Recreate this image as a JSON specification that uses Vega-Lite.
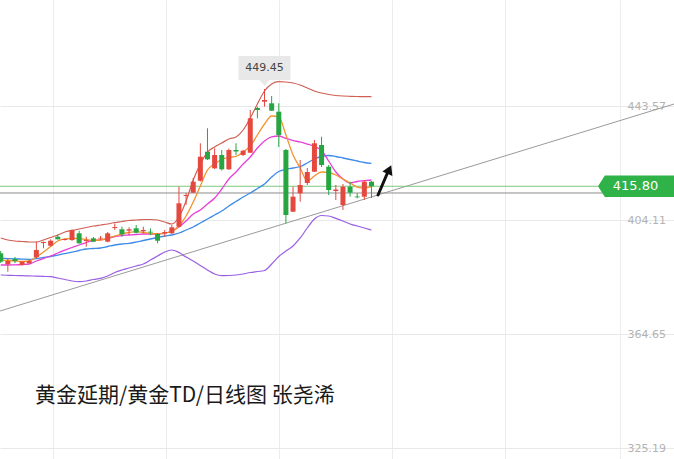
{
  "$schema": "https://vega.github.io/schema/vega-lite/v6.json",
  "width": 674,
  "height": 459,
  "autosize": {"type": "none"},
  "padding": 0,
  "background": "white",
  "config": {"view": {"stroke": null}},
  "datasets": {
    "candles": [
      {"i":0,"o":392.60,"h":393.40,"l":389.25,"c":389.70,"ub":397.90,"mb":390.87,"lb":385.09,"m5":390.28,"m10":388.55},
      {"i":1,"o":388.80,"h":390.98,"l":386.24,"c":389.94,"ub":397.21,"mb":390.77,"lb":384.99,"m5":390.11,"m10":388.55},
      {"i":2,"o":390.63,"h":391.32,"l":389.25,"c":389.94,"ub":396.86,"mb":390.67,"lb":384.92,"m5":389.94,"m10":388.62},
      {"i":3,"o":388.55,"h":389.94,"l":388.31,"c":389.70,"ub":396.69,"mb":390.60,"lb":384.85,"m5":389.77,"m10":388.73},
      {"i":4,"o":389.14,"h":390.29,"l":388.90,"c":389.94,"ub":396.51,"mb":390.53,"lb":384.78,"m5":389.94,"m10":388.90},
      {"i":5,"o":391.22,"h":396.62,"l":390.98,"c":393.74,"ub":396.51,"mb":390.80,"lb":384.71,"m5":391.32,"m10":389.94},
      {"i":6,"o":396.17,"h":396.68,"l":394.33,"c":396.51,"ub":397.21,"mb":391.15,"lb":384.61,"m5":393.05,"m10":390.80},
      {"i":7,"o":395.23,"h":397.45,"l":394.89,"c":396.96,"ub":398.07,"mb":391.50,"lb":384.51,"m5":394.96,"m10":391.67},
      {"i":8,"o":398.35,"h":399.04,"l":397.38,"c":397.45,"ub":398.94,"mb":392.01,"lb":384.06,"m5":396.86,"m10":392.71},
      {"i":9,"o":397.20,"h":397.72,"l":397.03,"c":397.55,"ub":399.97,"mb":392.53,"lb":383.54,"m5":397.55,"m10":393.74},
      {"i":10,"o":397.20,"h":400.91,"l":396.86,"c":400.67,"ub":400.49,"mb":393.05,"lb":383.02,"m5":397.79,"m10":394.61},
      {"i":11,"o":399.52,"h":400.43,"l":395.99,"c":396.06,"ub":401.01,"mb":393.57,"lb":382.78,"m5":397.72,"m10":395.48},
      {"i":12,"o":396.86,"h":398.35,"l":394.89,"c":397.20,"ub":401.53,"mb":394.09,"lb":383.02,"m5":397.38,"m10":396.34},
      {"i":13,"o":397.79,"h":398.24,"l":396.51,"c":396.62,"ub":402.05,"mb":394.26,"lb":383.54,"m5":397.10,"m10":397.03},
      {"i":14,"o":397.72,"h":398.59,"l":397.20,"c":397.97,"ub":402.40,"mb":394.44,"lb":383.95,"m5":397.21,"m10":397.27},
      {"i":15,"o":396.62,"h":399.97,"l":396.41,"c":399.52,"ub":402.74,"mb":394.96,"lb":384.75,"m5":397.90,"m10":397.72},
      {"i":16,"o":401.36,"h":402.98,"l":400.67,"c":401.70,"ub":403.26,"mb":395.48,"lb":385.96,"m5":398.59,"m10":398.42},
      {"i":17,"o":400.91,"h":401.81,"l":398.35,"c":399.18,"ub":403.61,"mb":395.82,"lb":386.82,"m5":399.28,"m10":398.76},
      {"i":18,"o":400.43,"h":401.60,"l":398.93,"c":400.91,"ub":403.95,"mb":396.06,"lb":387.52,"m5":399.80,"m10":398.93},
      {"i":19,"o":401.25,"h":402.40,"l":399.52,"c":399.73,"ub":404.13,"mb":396.51,"lb":388.21,"m5":400.08,"m10":399.11},
      {"i":20,"o":400.22,"h":401.81,"l":399.52,"c":400.67,"ub":404.30,"mb":397.03,"lb":388.90,"m5":399.80,"m10":399.28},
      {"i":21,"o":400.08,"h":401.25,"l":398.93,"c":399.80,"ub":404.30,"mb":397.55,"lb":390.28,"m5":399.45,"m10":399.28},
      {"i":22,"o":399.28,"h":399.63,"l":396.06,"c":396.96,"ub":404.13,"mb":398.07,"lb":391.67,"m5":399.28,"m10":399.38},
      {"i":23,"o":399.52,"h":400.67,"l":398.35,"c":399.97,"ub":403.43,"mb":398.59,"lb":393.05,"m5":399.63,"m10":399.52},
      {"i":24,"o":399.52,"h":402.40,"l":399.28,"c":401.60,"ub":402.74,"mb":398.94,"lb":393.74,"m5":400.15,"m10":400.32},
      {"i":25,"o":401.81,"h":415.65,"l":401.60,"c":409.90,"ub":405.16,"mb":399.63,"lb":392.88,"m5":402.05,"m10":401.70},
      {"i":26,"o":412.43,"h":413.47,"l":409.32,"c":412.78,"ub":410.70,"mb":400.67,"lb":391.32,"m5":405.51,"m10":403.78},
      {"i":27,"o":413.57,"h":418.66,"l":413.47,"c":417.38,"ub":417.97,"mb":401.70,"lb":389.94,"m5":410.35,"m10":406.20},
      {"i":28,"o":417.72,"h":430.67,"l":417.45,"c":426.03,"ub":423.50,"mb":403.09,"lb":388.38,"m5":415.89,"m10":407.59},
      {"i":29,"o":427.76,"h":435.86,"l":424.89,"c":425.13,"ub":427.65,"mb":404.47,"lb":386.82,"m5":421.43,"m10":409.66},
      {"i":30,"o":422.01,"h":428.94,"l":421.77,"c":426.62,"ub":429.38,"mb":405.86,"lb":385.44,"m5":423.50,"m10":411.74},
      {"i":31,"o":426.62,"h":428.35,"l":421.25,"c":421.67,"ub":430.77,"mb":407.24,"lb":384.85,"m5":425.06,"m10":414.85},
      {"i":32,"o":421.67,"h":428.87,"l":421.43,"c":428.35,"ub":432.15,"mb":408.97,"lb":384.92,"m5":425.75,"m10":418.31},
      {"i":33,"o":428.35,"h":430.67,"l":426.62,"c":427.83,"ub":432.85,"mb":410.53,"lb":385.09,"m5":426.10,"m10":420.73},
      {"i":34,"o":426.62,"h":428.35,"l":426.27,"c":428.10,"ub":435.27,"mb":412.08,"lb":385.44,"m5":427.65,"m10":423.50},
      {"i":35,"o":427.41,"h":442.19,"l":427.31,"c":439.32,"ub":439.42,"mb":413.47,"lb":385.96,"m5":429.73,"m10":425.92},
      {"i":36,"o":442.88,"h":443.33,"l":439.32,"c":442.19,"ub":444.26,"mb":415.03,"lb":386.31,"m5":433.54,"m10":429.04},
      {"i":37,"o":445.06,"h":449.45,"l":443.33,"c":445.65,"ub":448.76,"mb":416.58,"lb":386.65,"m5":437.34,"m10":431.46},
      {"i":38,"o":444.51,"h":447.03,"l":441.84,"c":441.95,"ub":451.18,"mb":419.00,"lb":388.90,"m5":440.11,"m10":432.85},
      {"i":39,"o":441.60,"h":444.51,"l":429.38,"c":433.54,"ub":451.98,"mb":420.91,"lb":391.50,"m5":439.77,"m10":433.19},
      {"i":40,"o":428.35,"h":428.69,"l":402.98,"c":405.86,"ub":451.88,"mb":421.60,"lb":393.40,"m5":433.54,"m10":432.33},
      {"i":41,"o":407.00,"h":415.65,"l":406.89,"c":412.19,"ub":451.53,"mb":422.12,"lb":395.13,"m5":426.62,"m10":431.63},
      {"i":42,"o":413.36,"h":424.89,"l":410.46,"c":416.24,"ub":450.84,"mb":422.64,"lb":397.90,"m5":422.12,"m10":431.12},
      {"i":43,"o":416.93,"h":422.12,"l":416.24,"c":420.73,"ub":449.80,"mb":423.85,"lb":401.36,"m5":417.62,"m10":430.42},
      {"i":44,"o":420.84,"h":431.81,"l":420.73,"c":430.67,"ub":448.76,"mb":425.23,"lb":404.47,"m5":419.35,"m10":429.56},
      {"i":45,"o":430.08,"h":432.95,"l":422.47,"c":423.16,"ub":448.07,"mb":426.10,"lb":405.68,"m5":420.73,"m10":428.17},
      {"i":46,"o":422.57,"h":423.16,"l":412.78,"c":414.50,"ub":447.55,"mb":426.44,"lb":405.51,"m5":420.56,"m10":424.54},
      {"i":47,"o":414.16,"h":416.24,"l":411.05,"c":414.68,"ub":447.21,"mb":426.10,"lb":404.71,"m5":419.70,"m10":420.73},
      {"i":48,"o":409.32,"h":416.58,"l":407.59,"c":415.65,"ub":447.03,"mb":425.58,"lb":403.78,"m5":418.31,"m10":418.31},
      {"i":49,"o":415.65,"h":417.38,"l":412.19,"c":413.57,"ub":446.93,"mb":425.06,"lb":402.74,"m5":416.93,"m10":416.93},
      {"i":50,"o":412.26,"h":413.36,"l":411.63,"c":411.98,"ub":446.86,"mb":424.54,"lb":402.05,"m5":415.54,"m10":417.45},
      {"i":51,"o":412.19,"h":417.97,"l":411.05,"c":417.38,"ub":446.79,"mb":424.02,"lb":401.36,"m5":415.20,"m10":417.72},
      {"i":52,"o":417.38,"h":417.62,"l":411.74,"c":415.80,"ub":446.79,"mb":423.74,"lb":400.67,"m5":415.65,"m10":417.97}
    ],
    "trend": [{"i": -0.1, "v": 372.64}, {"i": 94.43, "v": 444.26}],
    "levels": [{"v": 415.80, "kind": "last"}, {"v": 413.47, "kind": "prev"}],
    "peak": [{"i": 37, "v": 449.45}],
    "last": [{"v": 415.80}],
    "caption": [{"t": "黄金延期/黄金TD/日线图 张尧浠"}]
  },
  "encoding": {
    "x": {"type": "quantitative", "title": null,
          "scale": {"domain": [-0.1, 94.43], "nice": false, "zero": false, "padding": 0},
          "axis": {"values": [7.33, 23.17, 39.03, 54.88, 70.73, 86.86], "labels": false, "ticks": false, "domain": false, "grid": true, "gridColor": "#ececec", "gridWidth": 1, "title": null}},
    "y": {"type": "quantitative", "title": null,
          "scale": {"domain": [321.43, 480.25], "nice": false, "zero": false},
          "axis": {"orient": "right", "offset": -47, "values": [325.19, 364.65, 404.11, 443.57], "format": ".2f", "ticks": false, "domain": false, "grid": true, "gridColor": "#e8e8e8", "labelPadding": 0, "labelAlign": "left", "labelBaseline": "middle", "labelFont": "DejaVu Sans", "labelFontSize": 11, "labelColor": "#b3b3b3", "title": null}}
  },
  "layer": [
    {
      "data": {"name": "trend"},
      "mark": {"type": "line", "color": "#9a9a9a", "strokeWidth": 1, "clip": true},
      "encoding": {
        "x": {"field": "i"},
        "y": {"field": "v"}
      }
    },
    {
      "data": {"name": "levels"},
      "mark": {"type": "rule", "strokeWidth": 1},
      "encoding": {
        "y": {"field": "v"},
        "color": {"field": "kind", "type": "nominal", "scale": {"domain": ["last", "prev"], "range": ["#7cc87f", "#8c8c8c"]}, "legend": null}
      }
    },
    {
      "data": {"name": "candles"},
      "mark": {"type": "line", "color": "#cf5f54", "strokeWidth": 1.2, "interpolate": "monotone", "clip": true},
      "encoding": {"x": {"field": "i"}, "y": {"field": "ub"}}
    },
    {
      "data": {"name": "candles"},
      "mark": {"type": "line", "color": "#9b5fe3", "strokeWidth": 1.2, "interpolate": "monotone", "clip": true},
      "encoding": {"x": {"field": "i"}, "y": {"field": "lb"}}
    },
    {
      "data": {"name": "candles"},
      "mark": {"type": "line", "color": "#3d8be8", "strokeWidth": 1.3, "interpolate": "monotone", "clip": true},
      "encoding": {"x": {"field": "i"}, "y": {"field": "mb"}}
    },
    {
      "data": {"name": "candles"},
      "mark": {"type": "line", "color": "#e83fd8", "strokeWidth": 1.3, "interpolate": "monotone", "clip": true},
      "encoding": {"x": {"field": "i"}, "y": {"field": "m10"}}
    },
    {
      "data": {"name": "candles"},
      "mark": {"type": "line", "color": "#f2932c", "strokeWidth": 1.3, "interpolate": "monotone", "clip": true},
      "encoding": {"x": {"field": "i"}, "y": {"field": "m5"}}
    },
    {
      "data": {"name": "candles"},
      "mark": {"type": "rule", "strokeWidth": 1, "clip": true},
      "encoding": {
        "x": {"field": "i"},
        "y": {"field": "l"},
        "y2": {"field": "h"},
        "color": {"condition": {"test": "datum.c >= datum.o", "value": "#e5483f"}, "value": "#26a541"}
      }
    },
    {
      "data": {"name": "candles"},
      "mark": {"type": "bar", "size": 5, "clip": true},
      "encoding": {
        "x": {"field": "i"},
        "y": {"field": "o"},
        "y2": {"field": "c"},
        "color": {"condition": {"test": "datum.c >= datum.o", "value": "#e5483f"}, "value": "#26a541"}
      }
    },
    {
      "data": {"values": [{}]},
      "mark": {"type": "rule", "color": "#111111", "strokeWidth": 3, "strokeCap": "round"},
      "encoding": {
        "x": {"datum": 52.92},
        "y": {"datum": 412.78},
        "x2": {"datum": 54.18},
        "y2": {"datum": 420.04}
      }
    },
    {
      "data": {"values": [{}]},
      "mark": {"type": "point", "shape": "triangle-up", "filled": true, "color": "#111111", "size": 120, "angle": 24, "opacity": 1},
      "encoding": {
        "x": {"datum": 54.5},
        "y": {"datum": 421.6}
      }
    },
    {
      "data": {"name": "peak"},
      "mark": {"type": "point", "shape": "M-1,-0.46L1,-0.46L1,0.46L0.19,0.46L0,0.69L-0.19,0.46L-1,0.46Z", "filled": true, "color": "#e8e8e8", "opacity": 1, "size": 2704, "yOffset": -21},
      "encoding": {
        "x": {"field": "i"},
        "y": {"field": "v"}
      }
    },
    {
      "data": {"name": "peak"},
      "mark": {"type": "text", "font": "DejaVu Sans", "fontSize": 11, "color": "#444444", "baseline": "middle", "align": "center", "yOffset": -21},
      "encoding": {
        "x": {"field": "i"},
        "y": {"field": "v"},
        "text": {"field": "v", "type": "quantitative", "format": ".2f"}
      }
    },
    {
      "data": {"name": "last"},
      "mark": {"type": "point", "shape": "M-1,0L-0.82,-0.28L1,-0.28L1,0.28L-0.82,0.28Z", "filled": true, "color": "#2fb247", "opacity": 1, "size": 5776},
      "encoding": {
        "x": {"datum": 89.1},
        "y": {"field": "v"}
      }
    },
    {
      "data": {"name": "last"},
      "mark": {"type": "text", "font": "DejaVu Sans", "fontSize": 13, "color": "white", "baseline": "middle", "align": "center"},
      "encoding": {
        "x": {"datum": 89.03},
        "y": {"field": "v"},
        "text": {"field": "v", "type": "quantitative", "format": ".2f"}
      }
    },
    {
      "data": {"name": "caption"},
      "mark": {"type": "text", "font": "Noto Sans CJK SC", "fontSize": 21, "color": "#1a1a1a", "baseline": "middle", "align": "left"},
      "encoding": {
        "x": {"datum": 4.81},
        "y": {"datum": 343.4},
        "text": {"field": "t", "type": "nominal"}
      }
    }
  ]
}
